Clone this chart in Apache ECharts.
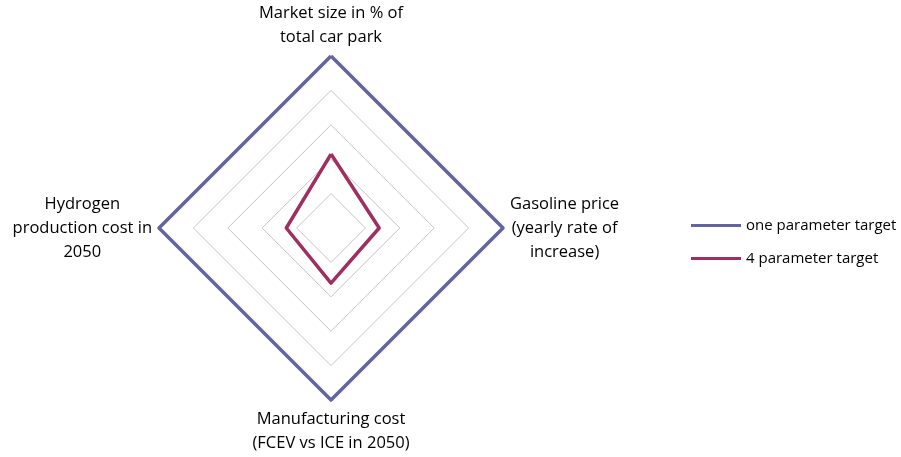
<!DOCTYPE html>
<html>
<head>
<meta charset="utf-8">
<script src="https://cdn.jsdelivr.net/npm/echarts@6/dist/echarts.min.js"></script>
<style>
  html, body { margin: 0; padding: 0; background: #fff; }
  #chart { width: 901px; height: 457px; }
</style>
</head>
<body>
<div id="chart"></div>
<script>
  // indicators in ECharts order: top, left, bottom, right (counter-clockwise)
  var indicatorNames = [
    'Market size in % of\ntotal car park',
    'Hydrogen\nproduction cost in\n2050',
    'Manufacturing cost\n(FCEV vs ICE in 2050)',
    'Gasoline price\n(yearly rate of\nincrease)'
  ];
  var indicatorMax = [5, 5, 5, 5];
  var seriesNames = ['one parameter target', '4 parameter target'];
  var onePara = [5, 5, 5, 5];
  var fourPara = [2.15, 1.3, 1.6, 1.4];

  var chart = echarts.init(document.getElementById('chart'));
  var font = 'Open Sans';
  var fs = 16.5;
  var option = {
    animation: false,
    legend: {
      data: seriesNames,
      orient: 'vertical',
      left: 686,
      top: 213,
      icon: 'rect',
      itemWidth: 50,
      itemHeight: 3,
      itemGap: 18,
      textStyle: { fontFamily: font, fontSize: 15, color: '#000' }
    },
    radar: {
      center: [331, 228],
      radius: 172,
      startAngle: 90,
      shape: 'polygon',
      splitNumber: 5,
      axisNameGap: 7,
      indicator: indicatorNames.map(function (n, i) { return { name: n, max: indicatorMax[i], min: 0 }; }),
      axisName: {
        fontFamily: font,
        fontSize: fs,
        color: '#000',
        lineHeight: 24,
        formatter: function (name) {
          return name.split('\n').map(function (s) { return '{c|' + s + '}'; }).join('\n');
        },
        rich: {
          c: { align: 'center', fontFamily: font, fontSize: fs, color: '#000', lineHeight: 24 }
        }
      },
      axisLine: { show: false },
      axisTick: { show: false },
      splitArea: { show: false },
      splitLine: { lineStyle: { color: '#c4c4c4', width: 1 } }
    },
    series: [{
      type: 'radar',
      symbol: 'none',
      data: [
        { name: seriesNames[0], value: onePara,
          lineStyle: { color: '#6464a0', width: 3.5 }, itemStyle: { color: '#6464a0' } },
        { name: seriesNames[1], value: fourPara,
          lineStyle: { color: '#9e2f5f', width: 3.5 }, itemStyle: { color: '#9e2f5f' } }
      ]
    }]
  };
  chart.setOption(option);
</script>
</body>
</html>
